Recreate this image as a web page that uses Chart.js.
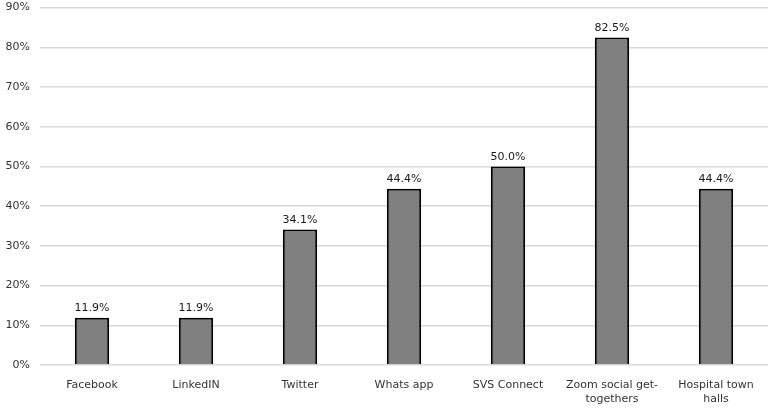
<!DOCTYPE html>
<html lang="en">
<head>
    <meta charset="UTF-8">
    <title>Platforms</title>
    <script src="https://cdn.jsdelivr.net/npm/chart.js"></script>
    <style>
        html, body { margin: 0; padding: 0; background: #fff; }
        #clip { width: 768px; height: 409px; overflow: hidden; position: relative; }
        #wrap { width: 768px; height: 418px; position: absolute; top: -9px; left: 0; }
    </style>
</head>
<body>
    <div id="clip"><div id="wrap"><canvas id="chart"></canvas></div></div>

    <script>
        // values
        const categories = ['Facebook', 'LinkedIN', 'Twitter', 'Whats app', 'SVS Connect', ['Zoom social get-', 'togethers'], ['Hospital town', 'halls']];
        const shares = [11.9, 11.9, 34.1, 44.4, 50.0, 82.5, 44.4];
        const yTicks = [0, 10, 20, 30, 40, 50, 60, 70, 80, 90];

        // draw the percent above each bar
        const valueLabels = {
            id: 'valueLabels',
            afterDatasetsDraw(chart) {
                const ctx = chart.ctx;
                const meta = chart.getDatasetMeta(0);
                ctx.save();
                ctx.font = '11px "DejaVu Sans"';
                ctx.fillStyle = '#1a1a1a';
                ctx.textAlign = 'center';
                ctx.textBaseline = 'bottom';
                meta.data.forEach((bar, i) => {
                    ctx.fillText(shares[i].toFixed(1) + '%', bar.x, bar.y - 4);
                });
                ctx.restore();
            }
        };

        new Chart(document.getElementById('chart'), {
            type: 'bar',
            data: {
                labels: categories,
                datasets: [{
                    data: shares,
                    backgroundColor: '#808080',
                    borderColor: '#000',
                    borderWidth: 2,
                    barPercentage: 0.33,
                    categoryPercentage: 1
                }]
            },
            options: {
                responsive: true,
                maintainAspectRatio: false,
                animation: false,
                layout: { padding: { top: 0, right: 0, left: 0, bottom: 0 } },
                plugins: { legend: { display: false }, tooltip: { enabled: false } },
                scales: {
                    x: {
                        grid: { display: false },
                        border: { display: false },
                        ticks: { color: '#333', font: { family: 'DejaVu Sans', size: 11 }, maxRotation: 0, padding: 6 },
                        afterFit(scale) { scale.height = 44; }
                    },
                    y: {
                        min: 0,
                        max: 90,
                        afterBuildTicks(scale) { scale.ticks = yTicks.map(v => ({ value: v })); },
                        grid: { color: '#d9d9d9', lineWidth: 1.5, drawTicks: false },
                        border: { display: false },
                        ticks: {
                            color: '#333',
                            font: { family: 'DejaVu Sans', size: 11 },
                            padding: 10,
                            callback: v => v + '%'
                        },
                        afterFit(scale) { scale.width = 40; }
                    }
                }
            },
            plugins: [valueLabels]
        });
    </script>
</body>
</html>
